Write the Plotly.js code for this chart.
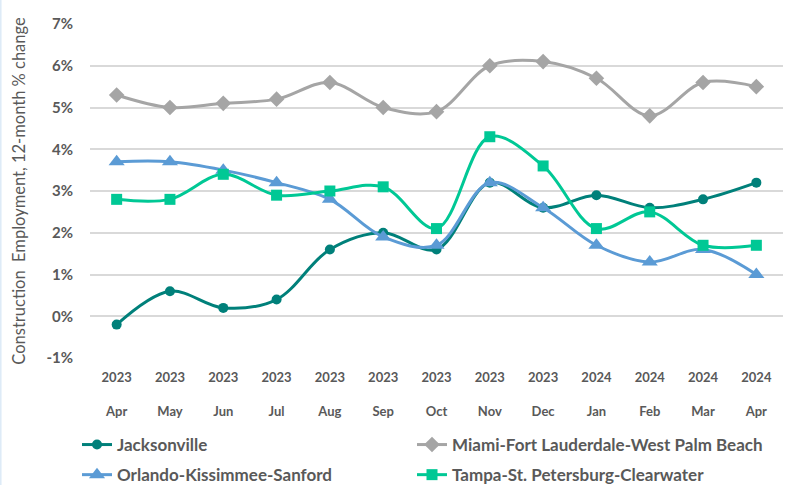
<!DOCTYPE html>
<html>
<head>
<meta charset="utf-8">
<script src="https://cdn.plot.ly/plotly-3.0.1.min.js"></script>
<style>html,body{margin:0;padding:0;background:#fff;}#chart{width:785px;height:485px;}</style>
</head>
<body>
<div id="chart"></div>
<script>
const months = ["Apr","May","Jun","Jul","Aug","Sep","Oct","Nov","Dec","Jan","Feb","Mar","Apr"];
const years = ["2023","2023","2023","2023","2023","2023","2023","2023","2023","2024","2024","2024","2024"];
const jacksonville = [-0.2, 0.6, 0.2, 0.4, 1.6, 2.0, 1.6, 3.2, 2.6, 2.9, 2.6, 2.8, 3.2];
const miami = [5.3, 5.0, 5.1, 5.2, 5.6, 5.0, 4.9, 6.0, 6.1, 5.7, 4.8, 5.6, 5.5];
const orlando = [3.7, 3.7, 3.5, 3.2, 2.8, 1.9, 1.7, 3.2, 2.6, 1.7, 1.3, 1.6, 1.0];
const tampa = [2.8, 2.8, 3.4, 2.9, 3.0, 3.1, 2.1, 4.3, 3.6, 2.1, 2.5, 1.7, 1.7];
const yTicks = [-1,0,1,2,3,4,5,6,7];

const idx = months.map((m,i)=>i);
const tickText = months.map((m,i)=>years[i] + "<br><br>" + m);

function tr(name, y, color, symbol, size, legend){
  return {x: idx, y: y, name: name, type: 'scatter', mode: 'lines+markers',
    legend: legend, legendgroup: name,
    line: {color: color, width: 3, shape: 'spline', smoothing: 1},
    marker: {color: color, symbol: symbol, size: size}};
}
const data = [
  tr("Jacksonville", jacksonville, "#00807A", "circle", 10, 'legend'),
  tr("Miami-Fort Lauderdale-West Palm Beach", miami, "#A5A5A5", "diamond", 12, 'legend2'),
  tr("Orlando-Kissimmee-Sanford", orlando, "#5B9BD5", "triangle-up", 14, 'legend'),
  tr("Tampa-St. Petersburg-Clearwater", tampa, "#00C895", "square", 11, 'legend2')
];
const legFont = {size: 17, color: '#595959', weight: 'bold'};
const W = 785, H = 485;
const ML = 90, MR = 2, MT = 24, MB = 127;
const PW = W - ML - MR, PH = H - MT - MB;
const legTop = 427;
const layout = {
  width: W, height: H,
  margin: {l: ML, r: MR, t: MT, b: MB},
  paper_bgcolor: '#fff', plot_bgcolor: '#fff',
  font: {family: "Lato, 'Open Sans', sans-serif", color: '#595959'},
  showlegend: true,
  legend: {orientation: 'v', xref: 'paper', yref: 'container', x: (77-ML)/PW, y: 1 - legTop/H,
    xanchor: 'left', yanchor: 'top', font: legFont, traceorder: 'grouped', tracegroupgap: 5,
    bgcolor: 'rgba(0,0,0,0)'},
  legend2: {orientation: 'v', xref: 'paper', yref: 'container', x: (412-ML)/PW, y: 1 - legTop/H,
    xanchor: 'left', yanchor: 'top', font: legFont, traceorder: 'grouped', tracegroupgap: 5,
    bgcolor: 'rgba(0,0,0,0)'},
  xaxis: {tickmode: 'array', tickvals: idx, ticktext: tickText, range: [-0.5, 12.5],
    showgrid: false, zeroline: false, showline: false, ticks: '', ticklabelstandoff: 10,
    automargin: false,
    tickfont: {size: 13, color: '#595959', weight: 'bold'}},
  yaxis: {range: [-1, 7], tickmode: 'array', tickvals: yTicks, ticktext: yTicks.map(v=>v+"%"),
    showgrid: true, gridcolor: '#D9D9D9', gridwidth: 1.5, zeroline: false, showline: false,
    ticks: '', ticklabelstandoff: 16, automargin: false,
    tickfont: {size: 15, color: '#595959', weight: 'bold'},
    title: {text: "Construction  Employment, 12-month % change", font: {size: 16.5, color: '#595959'}, standoff: 16}},
  shapes: [{type: 'line', xref: 'paper', yref: 'paper', x0: (0.8-ML)/PW, x1: (0.8-ML)/PW,
    y0: -MB/PH, y1: 1 + MT/PH, line: {color: '#DDEBF7', width: 1.5}}]
};
Plotly.newPlot('chart', data, layout, {displayModeBar: false});
</script>
</body>
</html>
